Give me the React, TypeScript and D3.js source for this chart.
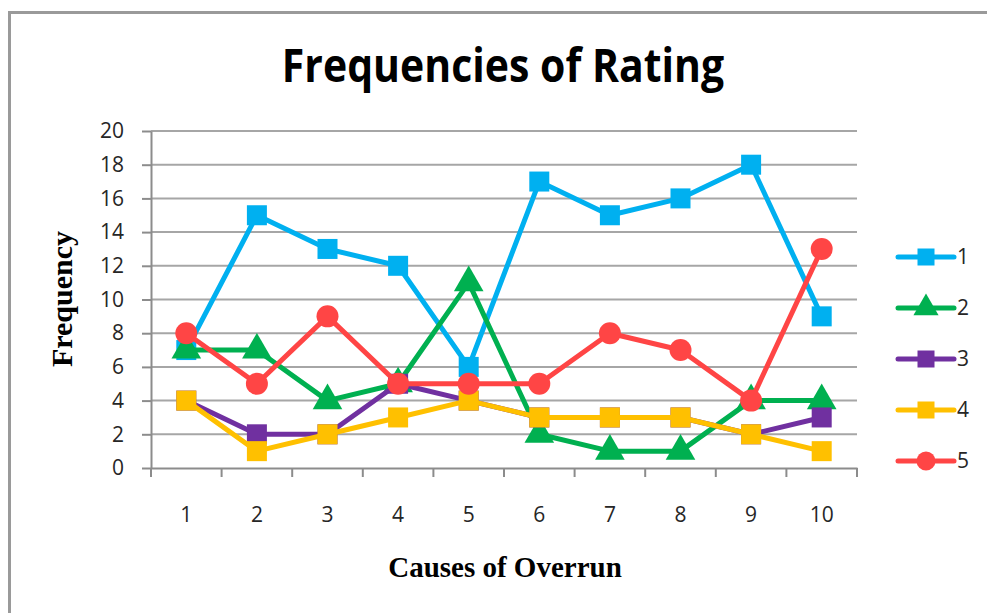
import React, { useEffect, useRef } from "react";
import * as d3 from "d3";

const causes = ["1", "2", "3", "4", "5", "6", "7", "8", "9", "10"];
const yTicks = [0, 2, 4, 6, 8, 10, 12, 14, 16, 18, 20];

const rating1 = [7, 15, 13, 12, 6, 17, 15, 16, 18, 9];
const rating2 = [7, 7, 4, 5, 11, 2, 1, 1, 4, 4];
const rating3 = [4, 2, 2, 5, 4, 3, 3, 3, 2, 3];
const rating4 = [4, 1, 2, 3, 4, 3, 3, 3, 2, 1];
const rating5 = [8, 5, 9, 5, 5, 5, 8, 7, 4, 13];

const seriesNames = ["1", "2", "3", "4", "5"];
const seriesColors = ["#00b0f0", "#00b050", "#7030a0", "#ffc000", "#ff4545"];
const seriesMarkers = ["square", "triangle", "square", "square", "circle"];

const App = () => {
  const svgRef = useRef<SVGSVGElement>(null);

  useEffect(() => {
    const width = 987;
    const height = 613;
    const margin = { top: 131, right: 130, bottom: 145, left: 151 };
    const svg = d3.select(svgRef.current).attr("width", width).attr("height", height);
    svg.selectAll("*").remove();

    const series = [rating1, rating2, rating3, rating4, rating5];
    const labelFont = "'Open Sans', 'Liberation Sans', sans-serif";
    const serifFont = "'Liberation Serif', 'DejaVu Serif', serif";

    svg.append("rect").attr("width", width).attr("height", height).attr("fill", "#fff");
    svg
      .append("rect")
      .attr("x", 9.5)
      .attr("y", 12.5)
      .attr("width", width + 10)
      .attr("height", height + 10)
      .attr("fill", "none")
      .attr("stroke", "#9a9a9a")
      .attr("stroke-width", 3);

    const x = d3
      .scaleBand()
      .domain(causes)
      .range([margin.left, width - margin.right]);
    const y = d3
      .scaleLinear()
      .domain([0, 20])
      .range([height - margin.bottom, margin.top]);

    // grid
    svg
      .append("g")
      .selectAll("line")
      .data(yTicks.filter((d) => d > 0))
      .join("line")
      .attr("x1", margin.left)
      .attr("x2", width - margin.right)
      .attr("y1", (d) => y(d))
      .attr("y2", (d) => y(d))
      .attr("stroke", "#a6a6a6")
      .attr("stroke-width", 2);

    const leftAxis = svg
      .append("g")
      .attr("transform", `translate(${margin.left},0)`)
      .call(d3.axisLeft(y).tickValues(yTicks).tickSize(9).tickSizeOuter(0).tickPadding(18));
    leftAxis.select(".domain").attr("stroke", "#8c8c8c").attr("stroke-width", 2);
    leftAxis.selectAll(".tick line").attr("stroke", "#8c8c8c").attr("stroke-width", 2);
    leftAxis
      .selectAll("text")
      .style("font-family", labelFont)
      .style("font-size", "21px")
      .attr("fill", "#262626");

    const bottomAxis = svg
      .append("g")
      .attr("transform", `translate(0,${height - margin.bottom})`)
      .call(d3.axisBottom(x).tickSize(0).tickSizeOuter(0).tickPadding(39));
    bottomAxis.select(".domain").attr("stroke", "#8c8c8c").attr("stroke-width", 2);
    bottomAxis
      .selectAll("text")
      .style("font-family", labelFont)
      .style("font-size", "21px")
      .attr("fill", "#262626");
    bottomAxis
      .append("g")
      .selectAll("line")
      .data(causes.concat(["end"]))
      .join("line")
      .attr("x1", (d, i) => margin.left + i * x.bandwidth())
      .attr("x2", (d, i) => margin.left + i * x.bandwidth())
      .attr("y1", 0)
      .attr("y2", 9)
      .attr("stroke", "#8c8c8c")
      .attr("stroke-width", 2);

    const cx = (i: number) => (x(causes[i]) as number) + x.bandwidth() / 2;

    const drawMarker = (g: any, type: string, color: string, px: number, py: number, s: number) => {
      if (type === "square") {
        g.append("rect")
          .attr("x", px - s / 2)
          .attr("y", py - s / 2)
          .attr("width", s)
          .attr("height", s)
          .attr("fill", color);
      } else if (type === "circle") {
        g.append("circle").attr("cx", px).attr("cy", py).attr("r", s / 2 + 1).attr("fill", color);
      } else {
        const sym = d3.symbol().type(d3.symbolTriangle).size(s * s * 0.95);
        g.append("path")
          .attr("d", sym())
          .attr("transform", `translate(${px},${py})`)
          .attr("fill", color);
      }
    };

    const line = d3
      .line<number>()
      .x((d, i) => cx(i))
      .y((d) => y(d));

    series.forEach((vals, si) => {
      const g = svg.append("g");
      g.append("path")
        .attr("d", line(vals))
        .attr("fill", "none")
        .attr("stroke", seriesColors[si])
        .attr("stroke-width", 5)
        .attr("stroke-linejoin", "round");
      vals.forEach((v, i) => drawMarker(g, seriesMarkers[si], seriesColors[si], cx(i), y(v), 20));
    });

    // legend
    const legend = svg.append("g");
    seriesNames.forEach((name, si) => {
      const ly = 257 + si * 51;
      const g = legend.append("g");
      g.append("line")
        .attr("x1", 898)
        .attr("x2", 954)
        .attr("y1", ly)
        .attr("y2", ly)
        .attr("stroke", seriesColors[si])
        .attr("stroke-width", 5)
        .attr("stroke-linecap", "round");
      drawMarker(g, seriesMarkers[si], seriesColors[si], 926, ly, 17);
      g.append("text")
        .attr("x", 957)
        .attr("y", ly)
        .attr("dy", "0.35em")
        .style("font-family", labelFont)
        .style("font-size", "21px")
        .attr("fill", "#262626")
        .text(name);
    });

    // titles
    svg
      .append("text")
      .attr("transform", "translate(503,82) scale(1,1.12)")
      .attr("text-anchor", "middle")
      .style("font-family", labelFont)
      .style("font-weight", "bold")
      .style("font-size", "41px")
      .attr("fill", "#000")
      .text("Frequencies of Rating");

    svg
      .append("text")
      .attr("x", 505)
      .attr("y", 577)
      .attr("text-anchor", "middle")
      .style("font-family", serifFont)
      .style("font-weight", "bold")
      .style("font-size", "29px")
      .attr("fill", "#000")
      .text("Causes of Overrun");

    svg
      .append("text")
      .attr("transform", `translate(72,299) rotate(-90)`)
      .attr("text-anchor", "middle")
      .style("font-family", serifFont)
      .style("font-weight", "bold")
      .style("font-size", "30px")
      .attr("fill", "#000")
      .text("Frequency");
  }, []);

  return (
    <div style={{ position: "absolute", left: 0, top: 0 }}>
      <svg ref={svgRef}></svg>
    </div>
  );
};

export default App;
